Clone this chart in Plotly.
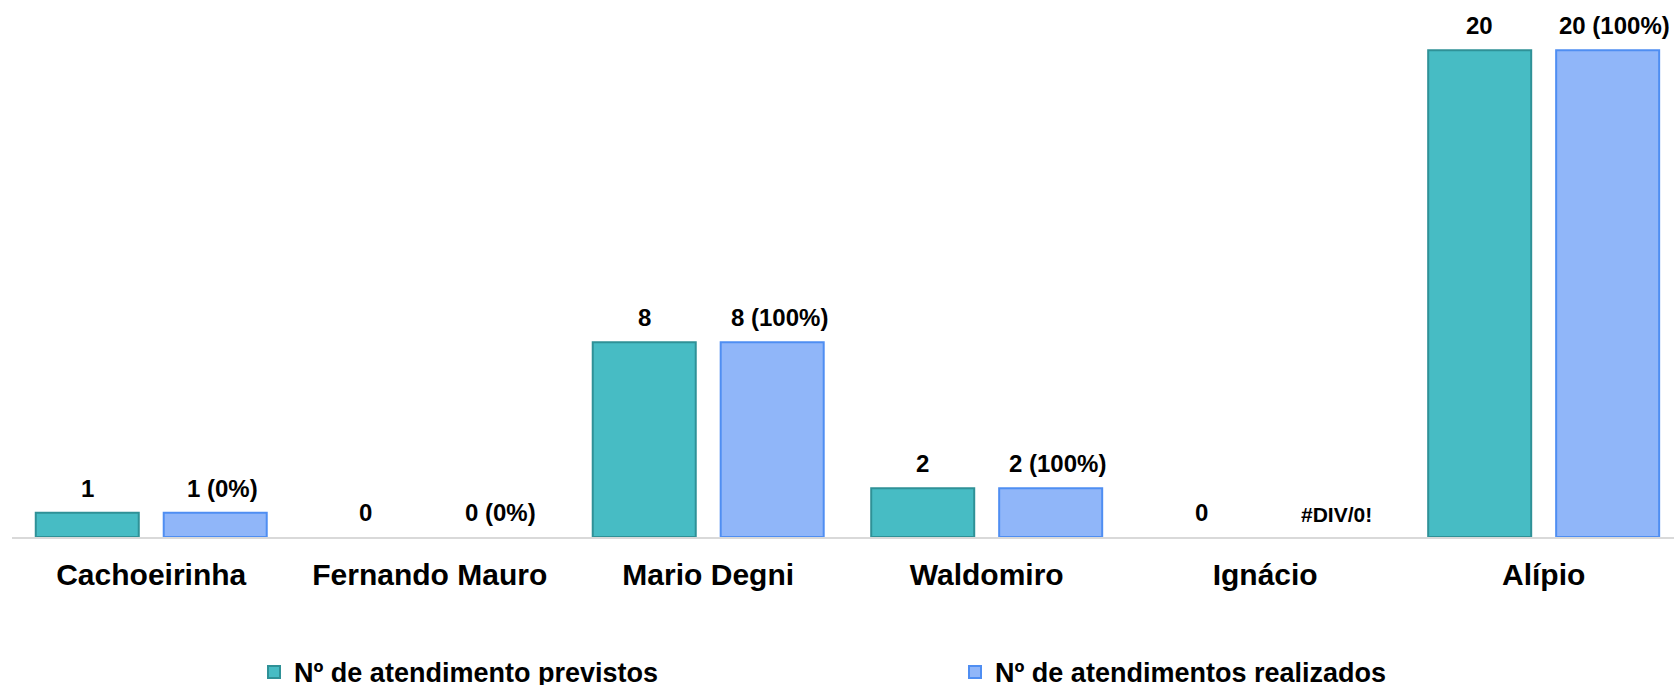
import plotly.graph_objects as go

categories = ["Cachoeirinha", "Fernando Mauro", "Mario Degni", "Waldomiro", "Ignácio", "Alípio"]
previstos = [1, 0, 8, 2, 0, 20]
realizados = [1, 0, 8, 2, 0, 20]
labels_previstos = ["1", "0", "8", "2", "0", "20"]
labels_realizados = ["1 (0%)", "0 (0%)", "8 (100%)", "2 (100%)", "#DIV/0!", "20 (100%)"]
series_names = ["Nº de atendimento previstos", "Nº de atendimentos realizados"]

FONT = "Liberation Sans, Arial, sans-serif"
teal_fill, teal_line = "#47BCC4", "#2F9197"
blue_fill, blue_line = "#90B6F9", "#4F8EF2"

fig = go.Figure()
fig.add_trace(go.Bar(x=categories, y=previstos, name=series_names[0],
                     marker=dict(color=teal_fill,
                                 line=dict(color=teal_line, width=[2 if v else 0 for v in previstos]))))
fig.add_trace(go.Bar(x=categories, y=realizados, name=series_names[1],
                     marker=dict(color=blue_fill,
                                 line=dict(color=blue_line, width=[2 if v else 0 for v in realizados]))))

annotations = []
for cat, v, t in zip(categories, previstos, labels_previstos):
    annotations.append(dict(x=cat, y=v, xref="x", yref="y", text=t, showarrow=False,
                            xshift=-64, yshift=9, yanchor="bottom",
                            font=dict(family=FONT, size=24, color="#000000", weight="bold")))
for cat, v, t in zip(categories, realizados, labels_realizados):
    small = t.startswith("#")
    annotations.append(dict(x=cat, y=v, xref="x", yref="y", text=t, showarrow=False,
                            xshift=64 + 7, yshift=9, yanchor="bottom",
                            font=dict(family=FONT, size=21 if small else 24, color="#000000", weight="bold")))

fig.update_layout(
    width=1674, height=685,
    margin=dict(l=12, r=0, t=0, b=147.5, pad=0, autoexpand=False),
    paper_bgcolor="white", plot_bgcolor="white",
    barmode="group", bargap=0.081, bargroupgap=0.195,
    font=dict(family=FONT, color="#000000"),
    xaxis=dict(range=[-0.5, 5.468], showline=True, linecolor="#D9D9D9", linewidth=2,
               ticks="", showgrid=False, zeroline=False, automargin=False,
               tickfont=dict(family=FONT, size=30, color="#000000", weight="bold"),
               ticklabelstandoff=10),
    yaxis=dict(range=[0, 22.07], visible=False, showgrid=False, zeroline=False, automargin=False),
    showlegend=True,
    legend=dict(orientation="h", x=(268 - 12 - 14) / 1662, xanchor="left",
                y=(537.5 - 673) / 537.5, yanchor="middle",
                entrywidth=656, entrywidthmode="pixels",
                font=dict(family=FONT, size=27, color="#000000", weight="bold"),
                bgcolor="rgba(0,0,0,0)"),
    annotations=annotations,
)

fig.write_html("out.html",
               config={"displayModeBar": False},
               post_script="document.body.style.margin='0';document.body.style.overflow='hidden';")
